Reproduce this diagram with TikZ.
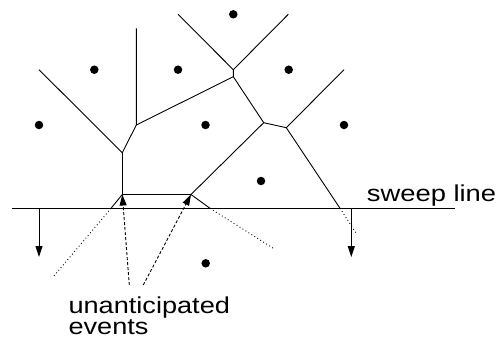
\documentclass[tikz,border=0pt]{standalone}
\usepackage{fontspec}
\setmainfont{Liberation Sans}
\usetikzlibrary{arrows.meta}
\begin{document}
\begin{tikzpicture}[x=1pt,y=-1pt,
  edge/.style={line width=0.9pt},
  site/.style={circle,fill=black,inner sep=0pt,minimum size=8.5pt},
  sweepl/.style={line width=1.5pt},
  ray/.style={line width=0.9pt,dotted,dash pattern=on 0.9pt off 2.6pt},
  fall/.style={line width=1pt,-{Triangle[length=11pt,width=7pt]}},
  evt/.style={line width=0.9pt,dash pattern=on 3pt off 2pt,-{Triangle[length=11pt,width=7pt]}},
  lbl/.style={inner sep=0pt,font=\fontsize{23}{23}\selectfont}]
\useasboundingbox (0,0) rectangle (497,338);
% sites
\node[site] (s1) at (233.3,14.3) {};
\node[site] (s2) at (94.3,69.7) {};
\node[site] (s3) at (178,69.7) {};
\node[site] (s4) at (288.7,69.7) {};
\node[site] (s5) at (39,125) {};
\node[site] (s6) at (205.5,125) {};
\node[site] (s7) at (344,125) {};
\node[site] (s8) at (261,181) {};
\node[site] (s9) at (205.7,263.3) {};
% vertices
\coordinate (A) at (136.3,28.3);
\coordinate (B) at (136.3,125);
\coordinate (C) at (122.3,152.7);
\coordinate (L) at (39,69.7);
\coordinate (D) at (233.3,76.7);
\coordinate (E) at (233.3,69.7);
\coordinate (F) at (178,14.3);
\coordinate (G) at (288.3,14.3);
\coordinate (H) at (263.7,122.7);
\coordinate (I) at (286.3,127.7);
\coordinate (J) at (344,69.7);
\coordinate (K) at (340,208.3);
\coordinate (Kd) at (356.7,234);
\coordinate (P) at (122.3,194.5);
\coordinate (Q) at (191,194.5);
\coordinate (P2) at (111,208.3);
\coordinate (Pd) at (53.3,276.7);
\coordinate (Q2) at (210,208.3);
\coordinate (Qd) at (273.3,248.3);
\coordinate (S1) at (11.7,208.3);
\coordinate (S2) at (455,208.3);
\coordinate (T1) at (39,208.3);
\coordinate (T1e) at (39,257);
\coordinate (T2) at (351.3,208.3);
\coordinate (T2e) at (351.3,257);
\coordinate (U1) at (129.3,285);
\coordinate (U2) at (143.3,285);
% edges
\draw[edge] (A) -- (B) -- (C) -- (L);
\draw[edge] (B) -- (D) -- (E) -- (F);
\draw[edge] (E) -- (G);
\draw[edge] (D) -- (H) -- (I) -- (J);
\draw[edge] (I) -- (K);
\draw[edge] (H) -- (Q);
\draw[edge] (C) -- (P);
\draw[edge] (P) -- (Q);
\draw[edge] (P) -- (P2);
\draw[edge] (Q) -- (Q2);
\draw[ray] (P2) -- (Pd);
\draw[ray] (Q2) -- (Qd);
\draw[ray] (K) -- (Kd);
% sweep line
\draw[sweepl] (S1) -- (S2);
\draw[fall] (T1) -- (T1e);
\draw[fall] (T2) -- (T2e);
\draw[evt] (U1) -- (P);
\draw[evt] (U2) -- (Q);
% labels
\node[lbl,anchor=base west] (sw) at (366.7,201.7) {\scalebox{1.19}[1]{sweep line}};
\node[lbl,anchor=base west] (un) at (68.3,313.3) {\scalebox{1.18}[1]{unanticipated}};
\node[lbl,anchor=base west] (ev) at (68.3,334.5) {\scalebox{1.18}[1]{events}};
\end{tikzpicture}
\end{document}
